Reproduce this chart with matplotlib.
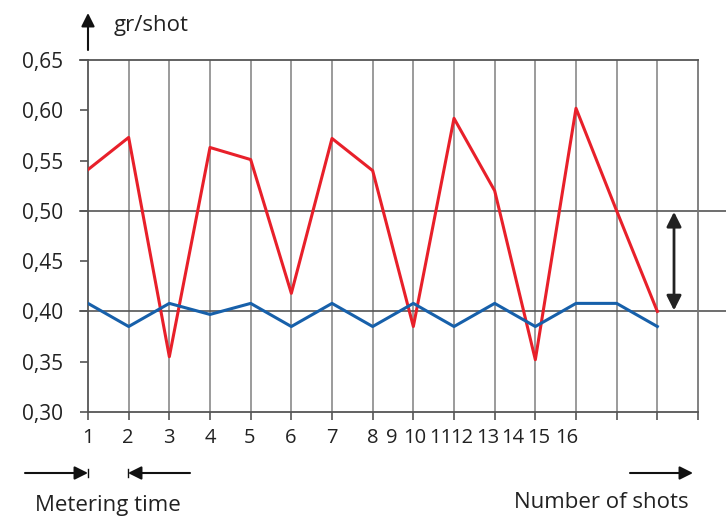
import matplotlib.pyplot as plt
import numpy as np

plt.rcParams['font.family'] = ['Open Sans', 'DejaVu Sans']

# data (gr/shot per shot)
shots = np.arange(15)
red_vals = [0.541, 0.573, 0.355, 0.563, 0.551, 0.418, 0.572, 0.540,
            0.385, 0.592, 0.520, 0.352, 0.602, 0.500, 0.400]
blue_vals = [0.408, 0.385, 0.408, 0.397, 0.408, 0.385, 0.408, 0.385,
             0.408, 0.385, 0.408, 0.385, 0.408, 0.408, 0.385]
y_ticks = [0.30, 0.35, 0.40, 0.45, 0.50, 0.55, 0.60, 0.65]
x_labels = ['1', '2', '3', '4', '5', '6', '7', '8', '9', '10',
            '11', '12', '13', '14', '15', '16']
# where the (crowded) x labels sit, in gridline units
x_label_pos = [0, 0.98, 1.99, 3.0, 3.98, 4.99, 6.0, 7.0, 7.47, 8.04,
               8.68, 9.2, 9.83, 10.45, 11.09, 11.78]

fig = plt.figure(figsize=(7.26, 5.18), dpi=100)
W, H = 726, 518
ax = fig.add_axes([88 / W, 1 - 412 / H, (698 - 88) / W, (412 - 60) / H])
ax.set_xlim(0, 15)
ax.set_ylim(0.30, 0.65)

grid_c = '#8a8a8a'
for i in range(1, 15):
    ax.axvline(i, color=grid_c, lw=1.2, zorder=1)

# reference lines running out past the plot
for yv in (0.50, 0.40):
    ax.axhline(yv, xmin=-8 / 610, xmax=(726 - 88) / 610, color='#555555',
               lw=1.2, clip_on=False, zorder=1)

ax.plot(shots, red_vals, color='#e8202a', lw=2.2, zorder=3)
ax.plot(shots, blue_vals, color='#1760aa', lw=2.2, zorder=3)

for s in ['left', 'top', 'right', 'bottom']:
    ax.spines[s].set_color('#555555')
    ax.spines[s].set_linewidth(1.3)
ax.spines['right'].set_color('#777777')

ax.set_yticks(y_ticks)
ax.set_yticklabels([f'{v:.2f}'.replace('.', ',') for v in y_ticks])
ax.set_xticks(range(16))
ax.set_xticklabels([])
ax.tick_params(axis='both', direction='out', length=6, width=1.2,
               color='#555555', labelsize=15, colors='#222222')
ax.tick_params(axis='y', pad=12)
# top tick extension to the left
ax.plot([-8 / 40.67, 0], [0.65, 0.65], color='#555555', lw=1.3,
        clip_on=False)

for lab, p in zip(x_labels, x_label_pos):
    ax.text(p, 0.30 - 0.016, lab, ha='center', va='top',
            fontsize=14.5, color='#222222')

# double arrow between 0.50 and 0.40
ax.annotate('', xy=(14.41, 0.401), xytext=(14.41, 0.499),
            arrowprops=dict(arrowstyle='<|-|>', color='#222222', lw=2,
                            mutation_scale=22, shrinkA=0, shrinkB=0),
            annotation_clip=False)


def farrow(x0, x1, y, bar=False):
    fig.add_artist(plt.Annotation('', xy=(x1 / W, 1 - y / H), xytext=(x0 / W, 1 - y / H),
                                  xycoords='figure fraction', textcoords='figure fraction',
                                  arrowprops=dict(arrowstyle='-|>', color='#111111', lw=1.5,
                                                  mutation_scale=20, shrinkA=0, shrinkB=0)))
    if bar:
        fig.add_artist(plt.Line2D([x1 / W, x1 / W], [1 - (y - 4) / H, 1 - (y + 4) / H],
                                  color='#111111', lw=1))


# y axis arrow and unit
fig.add_artist(plt.Annotation('', xy=(88 / W, 1 - 13 / H), xytext=(88 / W, 1 - 50 / H),
                              xycoords='figure fraction', textcoords='figure fraction',
                              arrowprops=dict(arrowstyle='-|>', color='#111111', lw=1.5,
                                              mutation_scale=20, shrinkA=0, shrinkB=0)))
fig.text(114 / W, 1 - 26 / H, 'gr/shot', fontsize=16, va='center', color='#222222')

# bottom arrows
farrow(25, 88, 473, bar=True)
farrow(190, 128, 473, bar=True)
farrow(630, 693, 473)
fig.text(108 / W, 1 - 506 / H, 'Metering time', fontsize=16, ha='center', va='center',
         color='#222222')
fig.text(601 / W, 1 - 503 / H, 'Number of shots', fontsize=16, ha='center', va='center',
         color='#222222')

fig.savefig('out.png', dpi=100)
